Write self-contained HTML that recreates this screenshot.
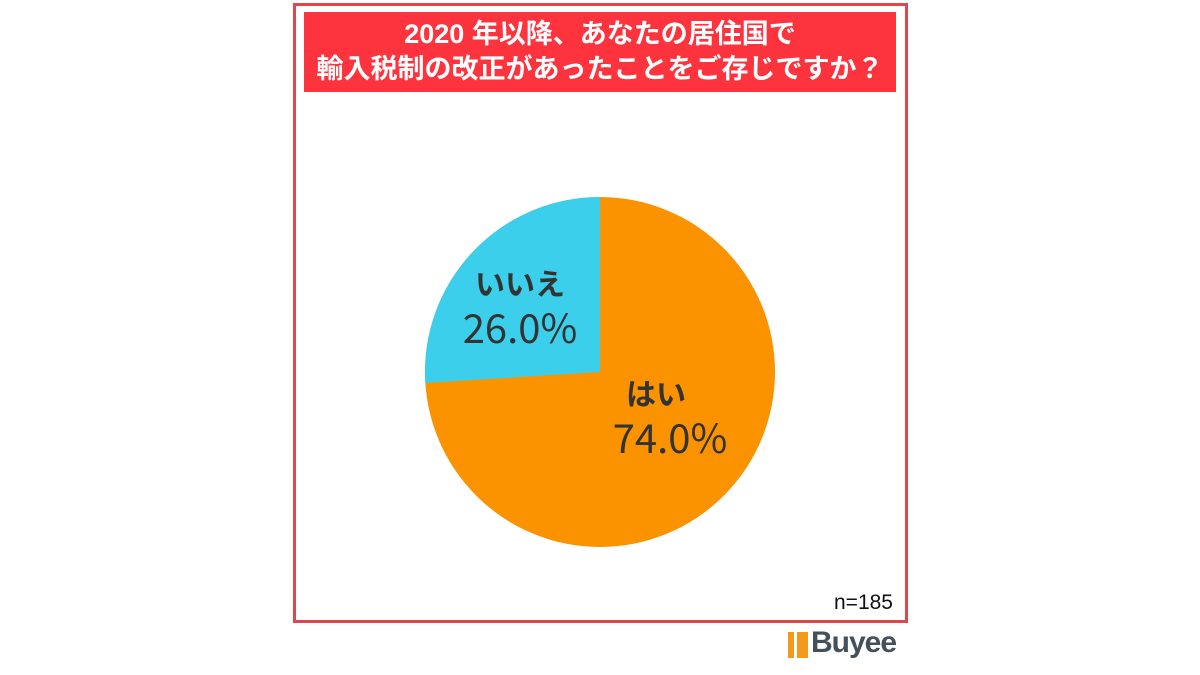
<!DOCTYPE html>
<html><head><meta charset="utf-8"><style>
body{margin:0;width:1200px;height:675px;background:#fff;overflow:hidden;position:relative;font-family:"Liberation Sans","Noto Sans CJK JP",sans-serif}
.box{position:absolute;left:293px;top:3px;width:609px;height:614px;border:3px solid #e0474c}
.ban{position:absolute;left:304px;top:12px;width:592px;height:80px;background:#fd333e;color:#fff;font-weight:bold;font-size:27px;line-height:35px;text-align:center;padding-top:5px;box-sizing:border-box}
.lab{position:absolute;color:#333;font-family:"Noto Sans CJK JP","Liberation Sans",sans-serif;text-align:center}
</style></head><body>
<div class="box"></div>
<div class="ban">2020 年以降、あなたの居住国で<br>輸入税制の改正があったことをご存じですか？</div>
<svg width="1200" height="675" style="position:absolute;left:0;top:0">
<circle cx="600" cy="372" r="175" fill="#fb9300"/>
<path d="M600 372 L600 197 A175 175 0 0 0 425.3 383 Z" fill="#3ccfec"/>
</svg>
<div class="lab" style="left:450px;top:262px;width:140px;font-size:30px;font-weight:bold;line-height:40px">いいえ</div>
<div class="lab" style="left:450px;top:300px;width:140px;font-size:40px;line-height:52px">26.0%</div>
<div class="lab" style="left:590px;top:372px;width:150px;font-size:30px;font-weight:bold;line-height:40px;text-align:left;padding-left:36px;box-sizing:border-box">はい</div>
<div class="lab" style="left:595px;top:410px;width:150px;font-size:40px;line-height:52px">74.0%</div>
<div style="position:absolute;left:834px;top:591px;font-size:21px;color:#111">n=185</div>
<div style="position:absolute;left:788px;top:632px;width:20px;height:26px;background:#f39a1e"></div>
<div style="position:absolute;left:794px;top:632px;width:3px;height:26px;background:#fff"></div>
<div style="position:absolute;left:811px;top:626px;font-size:30px;font-weight:bold;color:#44505b;letter-spacing:-1px">Buyee</div>
</body></html>
